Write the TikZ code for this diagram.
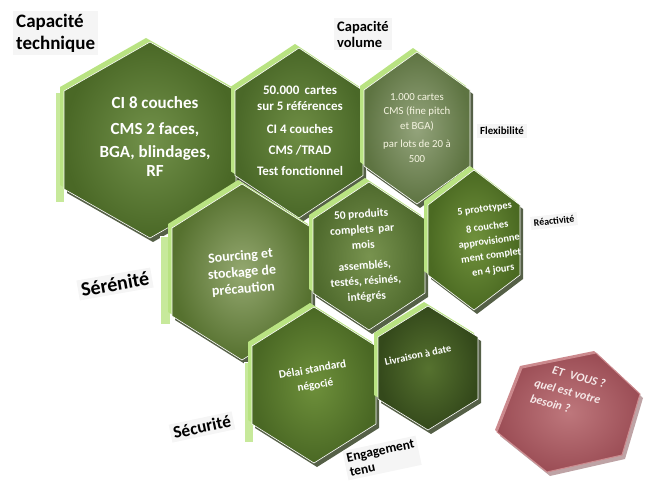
\documentclass[tikz,border=0pt]{standalone}
\usepackage{fontspec}
\setmainfont{Carlito}
\definecolor{bevelgreen}{HTML}{B9E382}
\definecolor{shadowgreen}{HTML}{2B3819}
\definecolor{techin}{HTML}{72914A}
\definecolor{techout}{HTML}{4A6826}
\definecolor{volin}{HTML}{6E8D44}
\definecolor{volout}{HTML}{4A6828}
\definecolor{flexin}{HTML}{94A47C}
\definecolor{flexout}{HTML}{5E7442}
\definecolor{serenin}{HTML}{94A870}
\definecolor{serenout}{HTML}{56712F}
\definecolor{prodin}{HTML}{78934F}
\definecolor{prodout}{HTML}{4F6A2D}
\definecolor{reacin}{HTML}{70913C}
\definecolor{reacout}{HTML}{4B6A22}
\definecolor{secuin}{HTML}{6E903B}
\definecolor{secuout}{HTML}{4A6824}
\definecolor{engagin}{HTML}{56722F}
\definecolor{engagout}{HTML}{34491B}
\definecolor{askin}{HTML}{BE777C}
\definecolor{askout}{HTML}{9C4E56}
\definecolor{redbevel}{HTML}{CC8A8E}
\definecolor{redshadow}{HTML}{6E3438}
\definecolor{redtext}{HTML}{F6E8E8}
\tikzset{
	hexbevel/.style={fill=bevelgreen},%
	hexshadow/.style={fill=shadowgreen,fill opacity=0.8},%
	face/.style 2 args={shading=radial,inner color=#1,outer color=#2,draw=white,line width=0.6pt},%
	strip/.style={fill=bevelgreen!80!white,draw=white,line width=0.6pt},%
	celltext/.style={text=white,align=center},%
	tag/.style={fill=black!4,inner sep=3pt,align=left,text=black},%
}
% hexagon with pointy top: centre x, centre y, half width, half height
\newcommand{\hexpath}[4]{(#1,#2-#4) -- (#1+#3,#2-#4/2) -- (#1+#3,#2+#4/2) -- (#1,#2+#4) -- (#1-#3,#2+#4/2) -- (#1-#3,#2-#4/2) -- cycle}
\newcommand{\hexcell}[6]{%
	\fill[hexshadow] \hexpath{#1+3}{#2+4}{#3}{#4};
	\fill[hexbevel] \hexpath{#1-4}{#2-4}{#3}{#4};
	\path[face={#5}{#6}] \hexpath{#1}{#2}{#3}{#4};
}
\def\redhex{(522,368) -- (596,353) -- (640,394) -- (622,455) -- (547,472) -- (497,432) -- cycle}

\begin{document}
\begin{tikzpicture}[x=1pt,y=-1pt]
	\useasboundingbox (0,0) rectangle (655,489);
	% top row
	\fill[strip] (55,92) rectangle (64,202);
	\hexcell{150}{140}{86}{98}{techin}{techout}
	\hexcell{299}{133}{64}{85}{volin}{volout}
	\hexcell{417}{128}{53}{76}{flexin}{flexout}
	% middle row
	\fill[strip] (160,236) rectangle (170,324);
	\hexcell{242}{272}{70}{88}{serenin}{serenout}
	\hexcell{369}{256}{56}{74}{prodin}{prodout}
	\hexcell{474}{240}{46}{70}{reacin}{reacout}
	% bottom row
	\fill[strip] (244,362) rectangle (253,442);
	\hexcell{314}{385}{62}{78}{secuin}{secuout}
	\hexcell{428}{368}{50}{62}{engagin}{engagout}
	% question cell
	\fill[redshadow,fill opacity=0.45,shift={(3,4)}] \redhex;
	\fill[redbevel,shift={(-2,-2)}] \redhex;
	\path[shading=radial,inner color=askin,outer color=askout,draw=redbevel,line width=1pt] \redhex;

	\node[celltext,font=\bfseries\fontsize{17}{19}\selectfont] (techcell) at (155,137) {CI 8 couches\\[7pt] CMS 2 faces,\\[4pt] BGA, blindages,\\ RF};
	\node[celltext,font=\bfseries\fontsize{13}{16}\selectfont] (volcell) at (300,131) {50.000 \,cartes\\ sur 5 références\\[7pt] CI 4 couches\\[5pt] CMS /TRAD\\[5pt] Test fonctionnel};
	\node[celltext,text=white!92!olive,font=\fontsize{10.8}{14.5}\selectfont] (flexcell) at (417,128) {1.000 cartes\\ CMS (fine pitch\\ et BGA)\\[4pt] par lots de 20 à\\ 500};
	\node[celltext,font=\bfseries\fontsize{14}{16.5}\selectfont,rotate=5] (serencell) at (242,273) {Sourcing et\\ stockage de\\ précaution};
	\node[celltext,font=\bfseries\fontsize{11.5}{15.5}\selectfont,rotate=4] (prodcell) at (364,256) {50 produits\\ complets \,par\\ mois\\[5pt] assemblés,\\ testés, résinés,\\ intégrés};
	\node[celltext,font=\bfseries\fontsize{10.4}{14.5}\selectfont,rotate=8] (reaccell) at (489,240) {5 prototypes\\[4pt] 8 couches\\ approvisionne\\ ment complet\\ en 4 jours};
	\node[celltext,font=\bfseries\fontsize{11.3}{16}\selectfont,rotate=10] (secucell) at (314,378) {Délai standard\\ négocié};
	\node[celltext,font=\bfseries\fontsize{10.4}{12}\selectfont,rotate=12] (engagcell) at (418,355) {Livraison à date};
	\node[celltext,align=left,text=redtext,font=\bfseries\itshape\fontsize{12}{16}\selectfont,rotate=-15] (askcell) at (568,391) {\hspace*{14pt}ET \;VOUS ?\\[1pt] quel est votre\\ besoin ?};

	\node[tag,anchor=west,font=\bfseries\fontsize{19}{22}\selectfont] (captech) at (13,33) {Capacité\\technique};
	\node[tag,anchor=west,font=\bfseries\fontsize{14.5}{16}\selectfont] (capvol) at (334,34) {Capacité\\volume};
	\node[tag,anchor=west,font=\bfseries\fontsize{10.9}{12}\selectfont] (flex) at (477,131) {Flexibilité};
	\node[tag,font=\bfseries\fontsize{9.9}{11}\selectfont,rotate=6] (reac) at (554,221) {Réactivité};
	\node[tag,font=\bfseries\fontsize{20}{22}\selectfont,rotate=10] (seren) at (115,284) {Sérénité};
	\node[tag,font=\bfseries\fontsize{17.3}{19}\selectfont,rotate=12] (secu) at (202,427) {Sécurité};
	\node[tag,font=\bfseries\fontsize{13.4}{15}\selectfont,rotate=12] (engag) at (382,458) {Engagement\\tenu};
\end{tikzpicture}
\end{document}
